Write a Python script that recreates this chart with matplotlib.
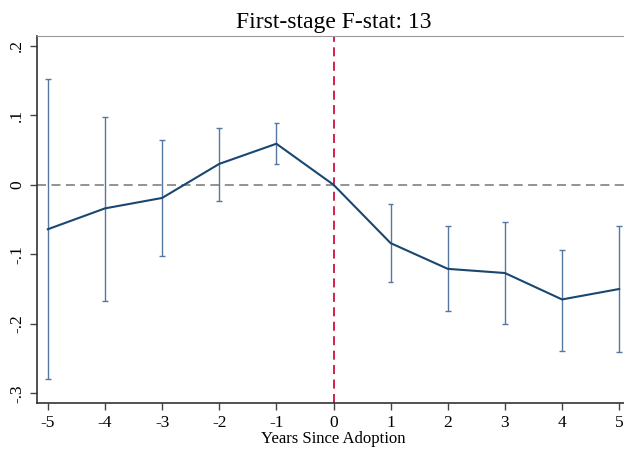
import matplotlib.pyplot as plt

# event-study estimates
years = [-5, -4, -3, -2, -1, 0, 1, 2, 3, 4, 5]
coef = [-0.064, -0.034, -0.019, 0.030, 0.059, 0.0, -0.084, -0.121, -0.127, -0.165, -0.150]
ci_hi = [0.152, 0.098, 0.065, 0.081, 0.089, 0.0, -0.028, -0.059, -0.053, -0.094, -0.059]
ci_lo = [-0.280, -0.167, -0.102, -0.023, 0.030, 0.0, -0.140, -0.181, -0.201, -0.239, -0.240]
yticks = [-0.3, -0.2, -0.1, 0.0, 0.1, 0.2]
ytick_labels = ["-.3", "-.2", "-.1", "0", ".1", ".2"]

plt.rcParams['font.family'] = ['Liberation Serif', 'DejaVu Serif']
plt.rcParams['axes.unicode_minus'] = False

fig = plt.figure(figsize=(6.24, 4.51), dpi=100)
ax = fig.add_axes([37/624, 48/451, 593/624, 367/451])

# confidence intervals (skip the reference year)
for x, lo, hi in zip(years, ci_lo, ci_hi):
    if lo == hi:
        continue
    ax.vlines(x, lo, hi, color='#5677a0', lw=1.0)
    ax.hlines([lo, hi], x - 0.05, x + 0.05, color='#5677a0', lw=1.0)

ax.plot(years, coef, color='#1a476f', lw=1.5, zorder=3)
ax.axhline(0, color='#8a8a8a', lw=1.3, ls=(0, (5, 3)), zorder=1)
ax.axvline(0, color='#d0103a', lw=1.3, ls=(0, (5, 3)), zorder=2)

ax.set_xlim(-5.19, 5.19)
ax.set_ylim(-0.314, 0.214)
ax.set_xticks(years)
ax.set_yticks(yticks)
ax.set_yticklabels(ytick_labels, rotation=90, va='center')
ax.tick_params(direction='out', length=5, width=1, color='#444444', labelsize=12.5)

for side in ['left', 'bottom']:
    ax.spines[side].set_color('#333333')
    ax.spines[side].set_linewidth(1.2)
ax.spines['top'].set_color('#999999')
ax.spines['right'].set_visible(False)

ax.set_xlabel("Years Since Adoption", fontsize=12, labelpad=0)
ax.set_title("First-stage F-stat: 13", fontsize=17, pad=6)

fig.savefig("out.png", dpi=100)
